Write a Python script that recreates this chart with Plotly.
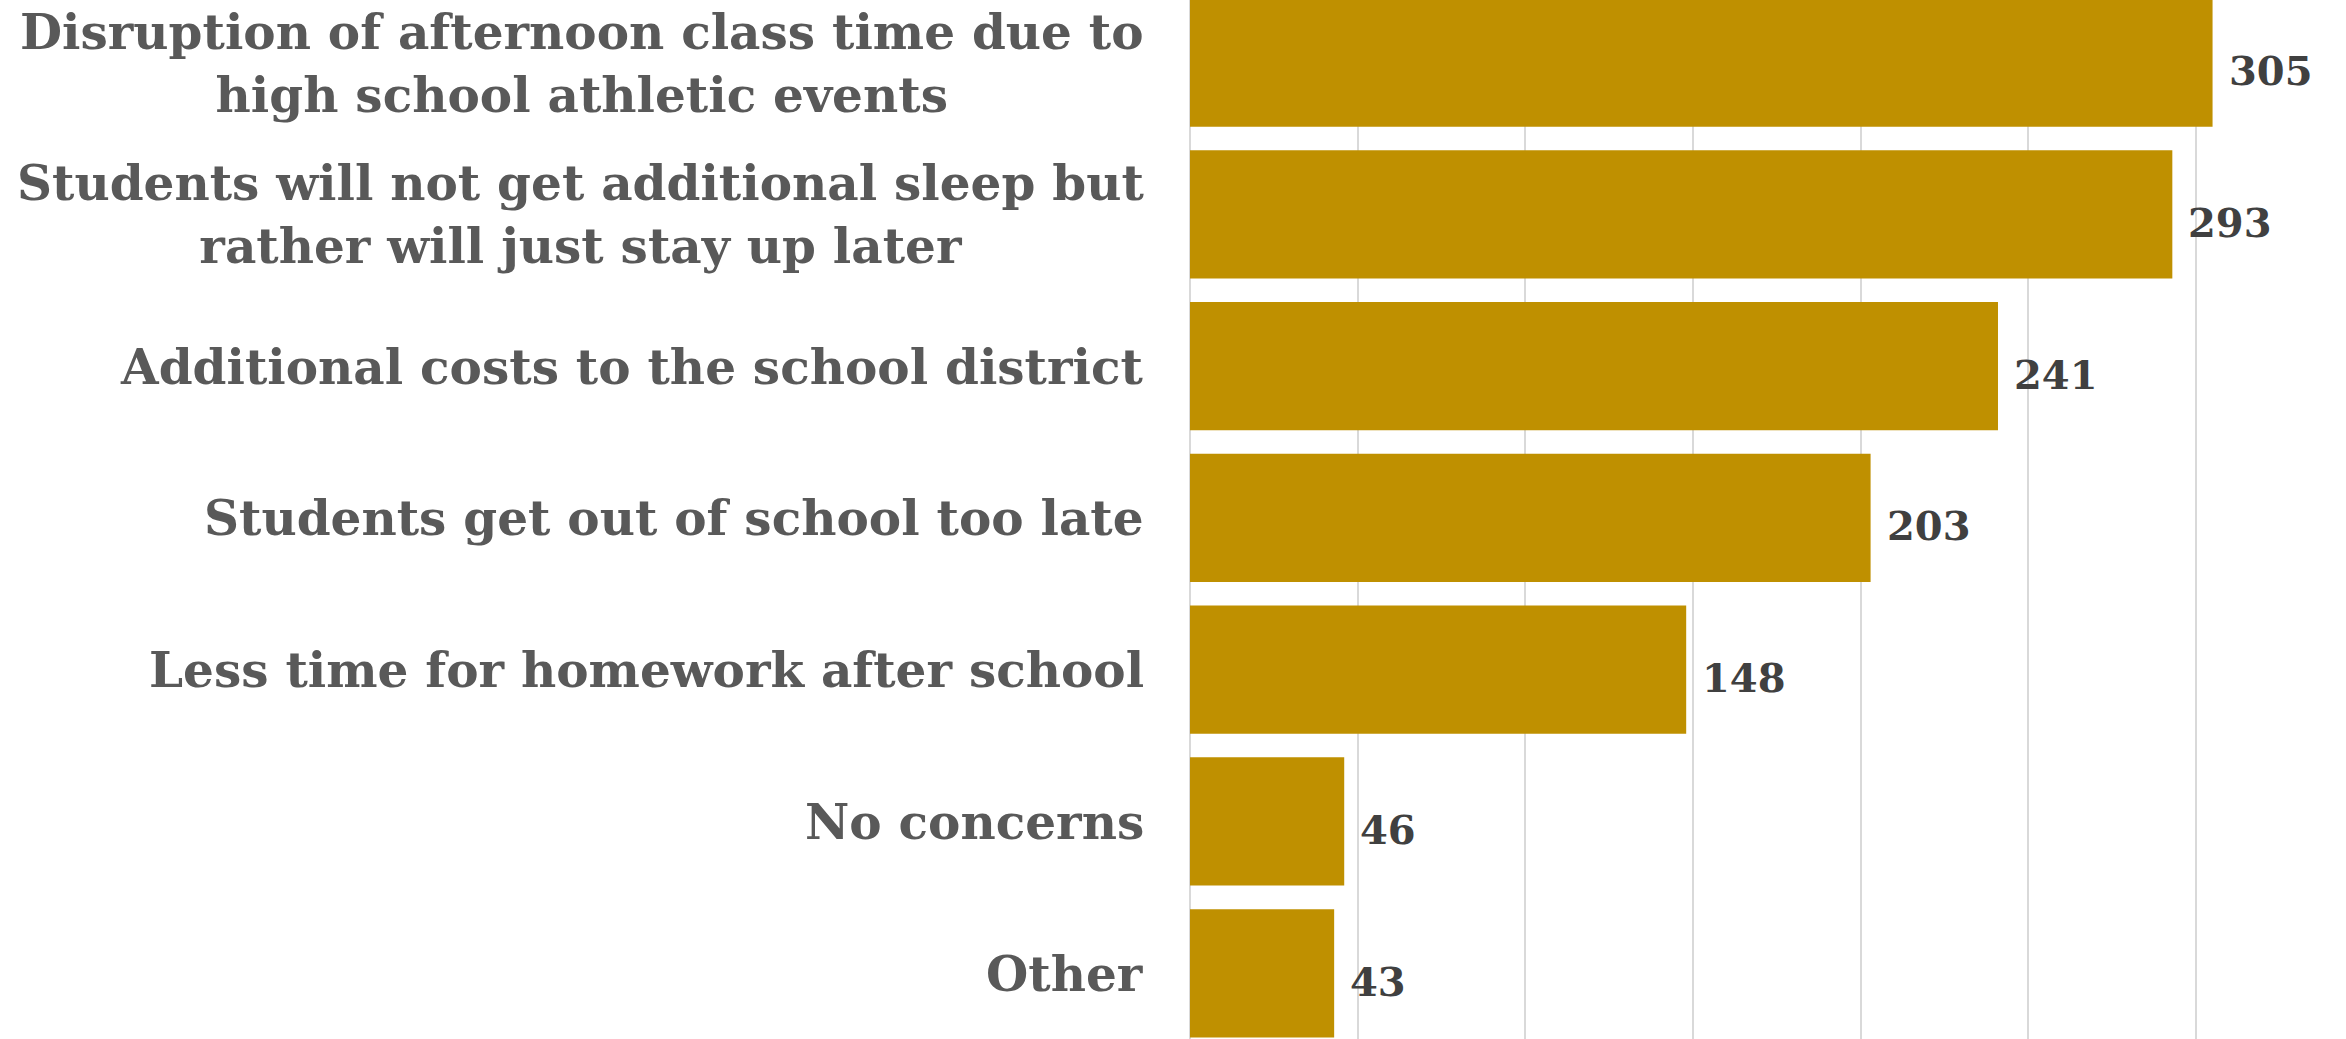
import plotly.graph_objects as go

categories = [
    "Disruption of afternoon class time due to<br>high school athletic events",
    "Students will not get additional sleep but<br>rather will just stay up later",
    "Additional costs to the school district",
    "Students get out of school too late",
    "Less time for homework after school",
    "No concerns",
    "Other",
]
values = [305, 293, 241, 203, 148, 46, 43]

BAR_COLOR = "#BF9000"
LABEL_COLOR = "#595959"
VALUE_COLOR = "#404040"
FONT = "DejaVu Serif"

fig = go.Figure(
    go.Bar(
        y=categories,
        x=values,
        orientation="h",
        marker=dict(color=BAR_COLOR, line=dict(width=0)),
        width=0.845,
        hoverinfo="skip",
    )
)

annotations = []
for c, v in zip(categories, values):
    annotations.append(dict(
        x=0, xref="paper", y=c, yref="y",
        text="<b>%s</b>" % c, showarrow=False,
        xanchor="right", yanchor="middle", align="center",
        xshift=-44,
        font=dict(family=FONT, size=48.5, color=LABEL_COLOR),
    ))
    annotations.append(dict(
        x=v, xref="x", y=c, yref="y",
        text="<b>%d</b>" % v, showarrow=False,
        xanchor="left", yanchor="middle",
        xshift=14, yshift=-8,
        font=dict(family=FONT, size=40, color=VALUE_COLOR),
    ))

fig.update_layout(
    width=2346, height=1039,
    margin=dict(l=1190, r=0, t=0, b=0),
    paper_bgcolor="white", plot_bgcolor="white",
    showlegend=False,
    annotations=annotations,
    xaxis=dict(
        range=[0, 344.8], dtick=50, showgrid=True, gridcolor="#D9D9D9", gridwidth=1.5,
        zeroline=True, zerolinecolor="#D9D9D9", zerolinewidth=1.5,
        showticklabels=False, ticks="", showline=False,
    ),
    yaxis=dict(
        range=[6.433, -0.412], showgrid=False, showticklabels=False,
        ticks="", showline=False, zeroline=False,
    ),
)

fig.write_html("out.html")
